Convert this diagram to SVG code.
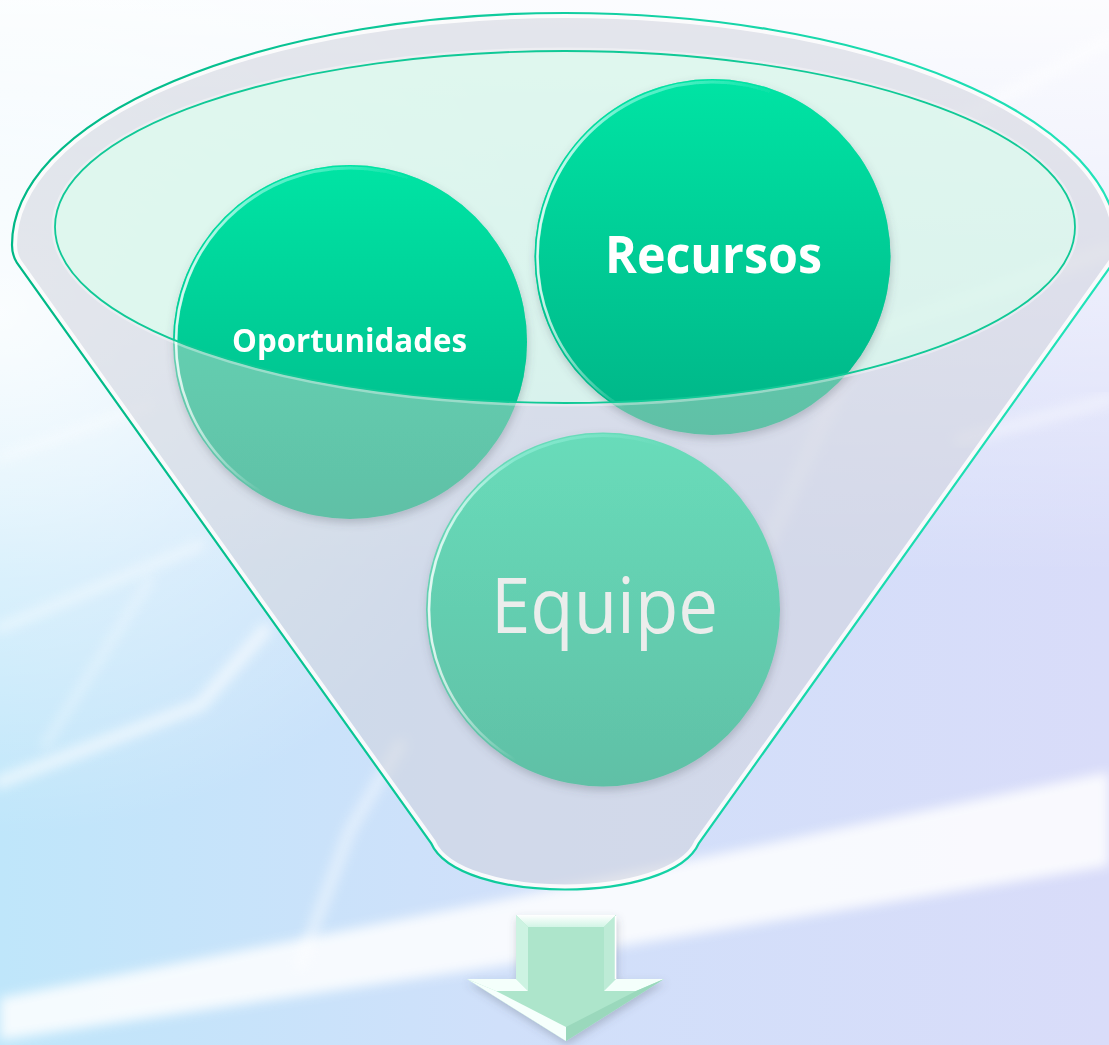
<svg xmlns="http://www.w3.org/2000/svg" width="1109" height="1045" viewBox="0 0 1109 1045">
<defs>
  <style>
    .lbl{font-family:"Open Sans","Noto Sans","Liberation Sans",sans-serif;text-anchor:middle;}
    .bold{font-weight:700;fill:#ffffff;}
    .teal{fill:none;stroke:#10c996;}
    .streak{fill:none;stroke:#ffffff;stroke-linecap:round;stroke-linejoin:round;filter:url(#blur6);}
  </style>
  <linearGradient id="bg" x1="0" y1="0" x2="1" y2="0">
    <stop offset="0" stop-color="#bfe6fa"/>
    <stop offset="0.45" stop-color="#d0e0fa"/>
    <stop offset="1" stop-color="#d9dcf9"/>
  </linearGradient>
  <linearGradient id="bgTop" x1="0" y1="0" x2="0" y2="1">
    <stop offset="0" stop-color="#ffffff" stop-opacity="0.92"/>
    <stop offset="0.25" stop-color="#ffffff" stop-opacity="0.55"/>
    <stop offset="0.55" stop-color="#ffffff" stop-opacity="0"/>
  </linearGradient>
  <radialGradient id="bgTL" cx="0" cy="0.3" r="0.5">
    <stop offset="0" stop-color="#ffffff" stop-opacity="0.85"/>
    <stop offset="1" stop-color="#ffffff" stop-opacity="0"/>
  </radialGradient>
  <linearGradient id="bright" x1="0" y1="0" x2="0" y2="1">
    <stop offset="0" stop-color="#00e4a4"/>
    <stop offset="1" stop-color="#00b487"/>
  </linearGradient>
  <linearGradient id="muted" x1="0" y1="0" x2="0" y2="1">
    <stop offset="0" stop-color="#68dcba"/>
    <stop offset="1" stop-color="#60c0a6"/>
  </linearGradient>
  <linearGradient id="ringTop" x1="0" y1="0" x2="0.8" y2="0.8">
    <stop offset="0" stop-color="#b4fff0" stop-opacity="0.95"/>
    <stop offset="0.45" stop-color="#b4fff0" stop-opacity="0"/>
  </linearGradient>
  <linearGradient id="ringLeft" x1="0" y1="0.5" x2="1" y2="0.5">
    <stop offset="0" stop-color="#ffffff" stop-opacity="0.8"/>
    <stop offset="0.25" stop-color="#ffffff" stop-opacity="0"/>
  </linearGradient>
  <linearGradient id="outline" x1="0" y1="0" x2="1" y2="0">
    <stop offset="0" stop-color="#00b886"/>
    <stop offset="1" stop-color="#22e4ba"/>
  </linearGradient>
  <linearGradient id="arrTop" x1="0" y1="0" x2="0" y2="1">
    <stop offset="0" stop-color="#ffffff"/>
    <stop offset="1" stop-color="#d2f5e6"/>
  </linearGradient>
  <filter id="blur6" x="-20%" y="-20%" width="140%" height="140%"><feGaussianBlur stdDeviation="6"/></filter>
  <filter id="sh" x="-20%" y="-20%" width="140%" height="140%">
    <feDropShadow dx="1" dy="4" stdDeviation="4" flood-color="#4a5060" flood-opacity="0.28"/>
  </filter>
  <clipPath id="funnelClip">
    <path d="M 12,245 A 553 232 0 0 1 1118,245 Q 1118,255 1113,263 L 699,843 C 672,905 458,905 431,843 L 17,263 Q 12,255 12,245 Z"/>
  </clipPath>
  <clipPath id="mouthClip">
    <ellipse cx="565" cy="227" rx="510" ry="176"/>
  </clipPath>
</defs>

<g id="background">
  <rect x="0" y="0" width="1109" height="1045" fill="url(#bg)"/>
  <rect x="0" y="0" width="1109" height="1045" fill="url(#bgTop)"/>
  <rect x="0" y="0" width="1109" height="1045" fill="url(#bgTL)"/>
  <path d="M0,998 L500,900 L1109,772 L1109,866 L500,966 L0,1040 Z" fill="#ffffff" opacity="0.85" filter="url(#blur6)"/>
  <path class="streak" d="M0,782 L200,705 L265,630" stroke-width="13" opacity="0.6"/>
  <path class="streak" d="M0,628 L200,545" stroke-width="10" opacity="0.45"/>
  <path class="streak" d="M45,745 L150,580" stroke-width="8" opacity="0.35"/>
  <path class="streak" d="M0,458 L150,405" stroke-width="9" opacity="0.4"/>
  <path class="streak" d="M300,965 L350,830 L400,745" stroke-width="12" opacity="0.45"/>
  <path class="streak" d="M880,330 L1109,250" stroke-width="16" opacity="0.45"/>
  <path class="streak" d="M960,120 L1109,40" stroke-width="14" opacity="0.45"/>
  <path class="streak" d="M960,440 L1109,400" stroke-width="12" opacity="0.4"/>
  <path class="streak" d="M860,340 L760,560" stroke-width="16" opacity="0.3"/>
</g>

<g id="funnel">
  <path fill-rule="evenodd" fill="#d2d4dc" fill-opacity="0.55"
        d="M 12,245 A 553 232 0 0 1 1118,245 Q 1118,255 1113,263 L 699,843 C 672,905 458,905 431,843 L 17,263 Q 12,255 12,245 Z
           M 55,227 A 510 176 0 1 0 1075,227 A 510 176 0 1 0 55,227 Z"/>
  <ellipse cx="565" cy="227" rx="510" ry="176" fill="#d6f5e8" fill-opacity="0.72"/>
  <path clip-path="url(#funnelClip)" fill="none" stroke="#ffffff" stroke-opacity="0.85" stroke-width="10"
        d="M 12,245 A 553 232 0 0 1 1118,245 Q 1118,255 1113,263 L 699,843 C 672,905 458,905 431,843 L 17,263 Q 12,255 12,245 Z"/>
  <path fill="none" stroke="url(#outline)" stroke-width="2.2"
        d="M 12,245 A 553 232 0 0 1 1118,245 Q 1118,255 1113,263 L 699,843 C 672,905 458,905 431,843 L 17,263 Q 12,255 12,245 Z"/>
</g>

<g id="node-oportunidades" filter="url(#sh)">
  <circle cx="350" cy="342" r="177" fill="url(#muted)"/>
  <circle cx="350" cy="342" r="177" fill="url(#bright)" clip-path="url(#mouthClip)"/>
  <circle cx="350" cy="342" r="174" fill="none" stroke="url(#ringTop)" stroke-width="3"/>
  <circle cx="350" cy="342" r="174" fill="none" stroke="url(#ringLeft)" stroke-width="2.5"/>
  <text class="lbl bold" x="349.5" y="352" font-size="32" textLength="235" lengthAdjust="spacingAndGlyphs">Oportunidades</text>
</g>

<g id="node-recursos" filter="url(#sh)">
  <circle cx="712.5" cy="257" r="178" fill="url(#muted)"/>
  <circle cx="712.5" cy="257" r="178" fill="url(#bright)" clip-path="url(#mouthClip)"/>
  <circle cx="712.5" cy="257" r="175" fill="none" stroke="url(#ringTop)" stroke-width="3"/>
  <circle cx="712.5" cy="257" r="175" fill="none" stroke="url(#ringLeft)" stroke-width="2.5"/>
  <text class="lbl bold" x="713.5" y="273" font-size="52" textLength="217" lengthAdjust="spacingAndGlyphs">Recursos</text>
</g>

<g id="node-equipe" filter="url(#sh)">
  <circle cx="603" cy="609.5" r="177" fill="url(#muted)"/>
  <circle cx="603" cy="609.5" r="174" fill="none" stroke="url(#ringTop)" stroke-width="3" opacity="0.7"/>
  <circle cx="603" cy="609.5" r="174" fill="none" stroke="url(#ringLeft)" stroke-width="2.5"/>
  <text class="lbl" x="604.5" y="633" font-size="76" fill="#ebedec" textLength="227" lengthAdjust="spacingAndGlyphs">Equipe</text>
</g>

<g id="funnel-mouth">
  <ellipse cx="565" cy="227" rx="512" ry="178" fill="none" stroke="#ffffff" stroke-opacity="0.35" stroke-width="3"/>
  <ellipse class="teal" cx="565" cy="227" rx="510" ry="176" stroke-width="1.8"/>
</g>

<g id="connectors">
  <g id="arrow-down" filter="url(#sh)">
    <polygon points="516,915 616,915 616,979 664,979 566,1041 467,979 516,979" fill="#ade5cb"/>
    <polygon points="516,915 616,915 604,927 528,927" fill="url(#arrTop)"/>
    <polygon points="516,915 528,927 528,991 516,979" fill="#cdf3e2"/>
    <polygon points="616,915 616,979 604,991 604,927" fill="#bdebd6"/>
    <line x1="615.5" y1="916" x2="615.5" y2="979" stroke="#ffffff" stroke-width="1.5"/>
    <polygon points="516,979 467,979 496,991 528,991" fill="#f4fffb"/>
    <polygon points="616,979 664,979 636,991 604,991" fill="#f4fffb"/>
    <polygon points="467,979 566,1041 566,1027 496,991" fill="#f6fffc"/>
    <polygon points="664,979 566,1041 566,1027 636,991" fill="#9ad8bc"/>
  </g>
</g>
</svg>
